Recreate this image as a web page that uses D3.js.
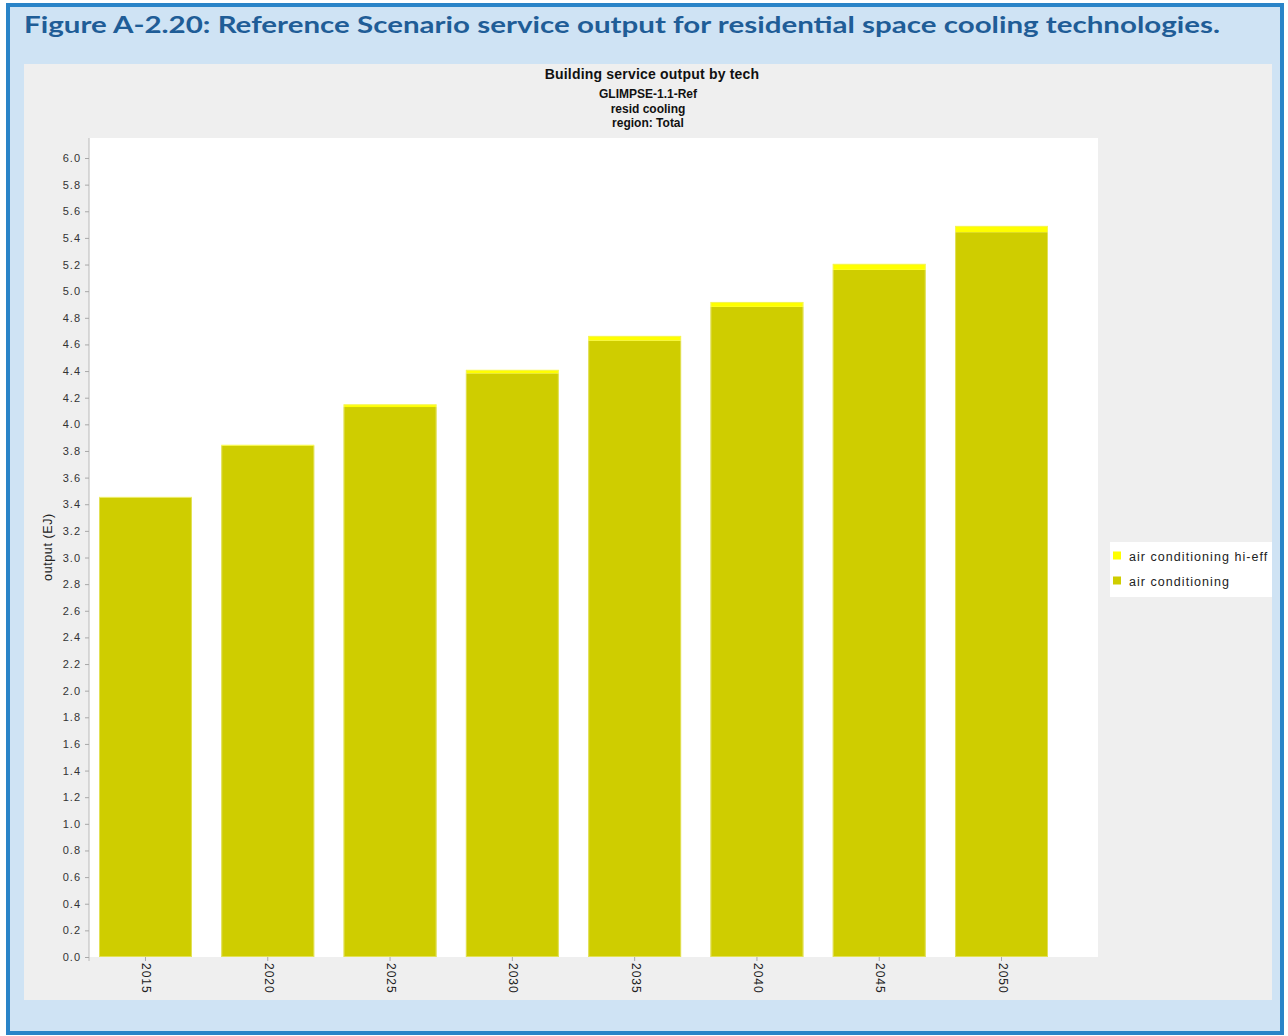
<!DOCTYPE html>
<html><head><meta charset="utf-8">
<script src="https://cdn.jsdelivr.net/npm/d3@7"></script>
<style>body{margin:0;background:#fff}svg{display:block}</style>
</head><body>
<script>
const years = ["2015","2020","2025","2030","2035","2040","2045","2050"];
const airConditioning = [3.452, 3.838, 4.130, 4.383, 4.629, 4.882, 5.160, 5.443];
const airConditioningHiEff = [0.003, 0.008, 0.020, 0.026, 0.035, 0.037, 0.045, 0.047];
const seriesNames = ["air conditioning", "air conditioning hi-eff"];
const seriesColors = ["#cfcd00", "#ffff00"];
const yTicks = d3.range(0, 31).map(i => +(i * 0.2).toFixed(1));
const titleLines = ["Building service output by tech", "GLIMPSE-1.1-Ref", "resid cooling", "region: Total"];
const figTitle = "Figure A-2.20: Reference Scenario service output for residential space cooling technologies.";

const W = 1288, H = 1036;
const FONT = "'Liberation Sans', Arial, sans-serif";
const svg = d3.select("body").append("svg").attr("width", W).attr("height", H);

// outer figure box
svg.append("rect").attr("x", 8).attr("y", 5).attr("width", W - 14).attr("height", H - 8)
  .attr("fill", "#cfe3f4").attr("stroke", "#2a84c8").attr("stroke-width", 4);
svg.append("text").attr("x", 24).attr("y", 33)
  .attr("font-family", "Lato, 'Open Sans', sans-serif").attr("font-weight", "bold")
  .attr("font-size", 23).attr("fill", "#1f5d97")
  .attr("textLength", 1196).attr("lengthAdjust", "spacingAndGlyphs")
  .text(figTitle);

// gray chart panel
svg.append("rect").attr("x", 24).attr("y", 64).attr("width", 1248).attr("height", 936).attr("fill", "#efefef");

// chart title
const tg = svg.append("g").attr("font-family", FONT)
  .attr("font-weight", "bold").attr("fill", "#111").attr("text-anchor", "middle");
const titleY = [79, 98, 113, 127];
titleLines.forEach((t, i) => tg.append("text").attr("x", i === 0 ? 652 : 648).attr("y", titleY[i])
  .attr("font-size", i === 0 ? 14 : 12).attr("letter-spacing", i === 0 ? 0.2 : 0).text(t));

const plot = {x0: 89, x1: 1098, y0: 138, y1: 957};
svg.append("rect").attr("x", plot.x0).attr("y", plot.y0).attr("width", plot.x1 - plot.x0)
  .attr("height", plot.y1 - plot.y0).attr("fill", "#fff");

const y = d3.scaleLinear().domain([0, 6.0]).range([957, 158]);
const x = d3.scaleBand().domain(years).range([99, 1048]).paddingInner(0.24).paddingOuter(0);

// stacked bars
const rows = years.map((yr, i) => ({year: yr, ac: airConditioning[i], hi: airConditioningHiEff[i]}));
const stack = d3.stack().keys(["ac", "hi"])(rows);
svg.append("g").selectAll("g").data(stack).join("g")
  .attr("fill", (d, i) => seriesColors[i])
  .selectAll("rect").data(d => d).join("rect")
  .attr("x", d => x(d.data.year)).attr("width", x.bandwidth())
  .attr("y", d => y(d[1])).attr("height", d => y(d[0]) - y(d[1]));
// light bar outlines
svg.append("g").selectAll("rect").data(rows).join("rect")
  .attr("x", d => x(d.year) + 0.5).attr("width", x.bandwidth() - 1)
  .attr("y", d => y(d.ac + d.hi) + 0.5).attr("height", d => y(0) - y(d.ac + d.hi) - 1)
  .attr("fill", "none").attr("stroke", "#eeee90").attr("stroke-width", 1).attr("stroke-opacity", 0.6);

// y axis
const yAxis = d3.axisLeft(y).tickValues(yTicks).tickFormat(d3.format(".1f")).tickSize(4).tickPadding(5);
const ya = svg.append("g").attr("transform", "translate(89,0)").call(yAxis);
ya.select(".domain").attr("stroke", "#b8b8b8").attr("d", "M0,138V961");
ya.selectAll(".tick line").attr("stroke", "#a8a8a8");
ya.selectAll("text").attr("font-family", FONT).attr("font-size", 11).attr("letter-spacing", 1)
  .attr("fill", "#333").attr("dx", 1);

svg.append("text").attr("transform", "translate(52,547) rotate(-90)").attr("text-anchor", "middle")
  .attr("font-family", FONT).attr("font-size", 12.5).attr("letter-spacing", 0.6).attr("fill", "#222")
  .text("output (EJ)");

// x axis
const xAxis = d3.axisBottom(x).tickSize(4).tickPadding(0);
const xa = svg.append("g").attr("transform", "translate(0,957)").call(xAxis);
xa.select(".domain").remove();
xa.selectAll(".tick line").attr("stroke", "#a8a8a8");
xa.selectAll("text").attr("font-family", FONT).attr("font-size", 12).attr("letter-spacing", 1).attr("fill", "#222")
  .attr("text-anchor", "start").attr("dy", null).attr("y", 0)
  .attr("transform", "translate(-3,6) rotate(90)");

// legend
const lg = svg.append("g");
lg.append("rect").attr("x", 1110).attr("y", 542).attr("width", 162).attr("height", 55).attr("fill", "#fff");
const legItems = [{name: seriesNames[1], color: seriesColors[1]}, {name: seriesNames[0], color: seriesColors[0]}];
legItems.forEach((d, i) => {
  const cy = 555.5 + i * 25;
  lg.append("rect").attr("x", 1113).attr("y", cy - 4).attr("width", 8).attr("height", 8).attr("fill", d.color);
  lg.append("text").attr("x", 1129).attr("y", cy + 5)
    .attr("font-family", FONT).attr("font-size", 12.5).attr("letter-spacing", 1.05).attr("fill", "#222").text(d.name);
});
</script>
</body></html>
